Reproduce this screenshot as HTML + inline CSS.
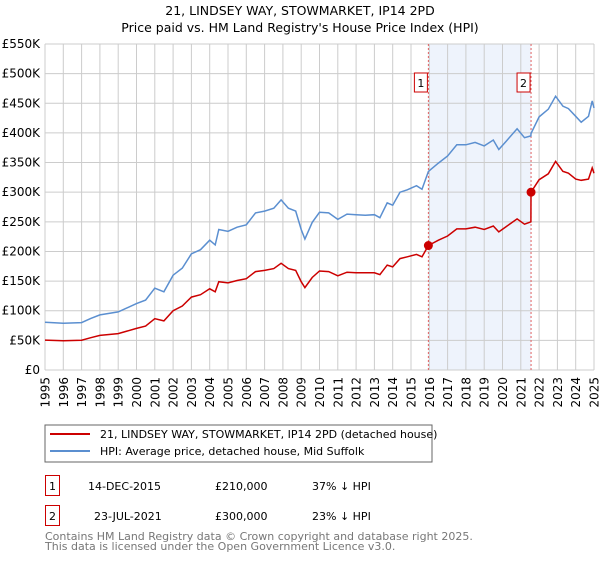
<!DOCTYPE html>
<html><head><meta charset="utf-8"><style>
body{margin:0;background:#fff;font-family:"Liberation Sans","DejaVu Sans",sans-serif;}
</style></head><body>
<svg id="c" width="600" height="560" xmlns="http://www.w3.org/2000/svg" font-family="DejaVu Sans, Liberation Sans, sans-serif">
<text x="300" y="15" text-anchor="middle" font-size="12.5">21, LINDSEY WAY, STOWMARKET, IP14 2PD</text>
<text x="300" y="32" text-anchor="middle" font-size="12.5">Price paid vs. HM Land Registry's House Price Index (HPI)</text>
<g id="grid"></g><g id="marks"></g>
<rect x="45" y="425" width="387" height="37" fill="#fff" stroke="#666"/>
<line x1="50" y1="434" x2="90" y2="434" stroke="#cc0000" stroke-width="2"/>
<text x="100" y="438" font-size="11">21, LINDSEY WAY, STOWMARKET, IP14 2PD (detached house)</text>
<line x1="50" y1="451" x2="90" y2="451" stroke="#5b8fd0" stroke-width="2"/>
<text x="100" y="455" font-size="11">HPI: Average price, detached house, Mid Suffolk</text>
<g font-size="11">
<rect x="45.5" y="475.5" width="14" height="20" fill="none" stroke="#cc0000"/>
<text x="52.5" y="490" text-anchor="middle">1</text>
<text x="88" y="490">14-DEC-2015</text>
<text x="215" y="490">£210,000</text>
<text x="312" y="490">37% ↓ HPI</text>
<rect x="45.5" y="505.5" width="14" height="20" fill="none" stroke="#cc0000"/>
<text x="52.5" y="520" text-anchor="middle">2</text>
<text x="94" y="520">23-JUL-2021</text>
<text x="215" y="520">£300,000</text>
<text x="312" y="520">23% ↓ HPI</text>
</g>
<text x="45" y="540" font-size="11" fill="#777">Contains HM Land Registry data © Crown copyright and database right 2025.</text>
<text x="45" y="550" font-size="11" fill="#777">This data is licensed under the Open Government Licence v3.0.</text>
</svg>
<script>
const years=[1995,1996,1997,1997.5,1998,1999,2000,2000.5,2001,2001.5,2002,2002.5,2003,2003.5,2004,2004.3,2004.5,2005,2005.5,2006,2006.5,2007,2007.5,2007.9,2008.3,2008.7,2009.0,2009.2,2009.6,2010,2010.5,2011,2011.5,2012,2012.5,2013,2013.3,2013.7,2014,2014.4,2014.8,2015.3,2015.6,2015.95,2016.5,2017,2017.5,2018,2018.5,2019,2019.5,2019.8,2020.2,2020.8,2021.2,2021.55,2021.56,2022,2022.5,2022.9,2023.3,2023.6,2024.0,2024.3,2024.7,2024.9,2025.0];
const hpiValues=[80.6,79,80,87,93,98,112,118,138,132,160,172,196,203,219,211,237,234,241,245,265,268,273,287,273,268,237,221,249,266,265,254,263,262,261,262,257,282,278,300,304,311,305,335,349,361,380,380,384,378,388,372,386,407,392,395,399,427,440,462,445,441,428,418,428,454,442];
const priceValues=[50.5,49.5,50.2,54.5,58.3,61.4,70.2,74,86.5,82.8,100,108,123,127,137,132,149,147,151,154,166,168,171,180,171,168,149,139,156,167,166,159,165,164,164,164,161,177,174,188,191,195,191,210,219,226,238,238,241,237,243,233,242,255,246,250,300,321,331,352,335,332,322,320,322,341,332];
const saleYears=[2015.95,2021.56];
const salePrices=[210,300];
const yTicks=[0,50,100,150,200,250,300,350,400,450,500,550];
const yTickLabels=["£0","£50K","£100K","£150K","£200K","£250K","£300K","£350K","£400K","£450K","£500K","£550K"];
const xTicks=[1995,1996,1997,1998,1999,2000,2001,2002,2003,2004,2005,2006,2007,2008,2009,2010,2011,2012,2013,2014,2015,2016,2017,2018,2019,2020,2021,2022,2023,2024,2025];
const NS="http://www.w3.org/2000/svg";
const X0=45,X1=594,Y0=370,Y1=44;
const xs=y=>X0+(y-1995)/30*(X1-X0);
const ys=v=>Y0-v/550*(Y0-Y1);
function mk(tag,attrs,parent){const e=document.createElementNS(NS,tag);for(const k in attrs)e.setAttribute(k,attrs[k]);parent.appendChild(e);return e;}
const grid=document.getElementById('grid'),marks=document.getElementById('marks');
let sh=mk('rect',{x:xs(saleYears[0]),y:Y1,width:xs(saleYears[1])-xs(saleYears[0]),height:Y0-Y1,fill:'#eef3fc'},grid);


yTicks.forEach((t,i)=>{
 let l=mk('line',{x1:X0,x2:X1,y1:ys(t),y2:ys(t),stroke:'#ccc'},grid);
 
 
 let tx=mk('text',{x:X0-5,y:ys(t)+4,'text-anchor':'end','font-size':'12'},grid);
 tx.textContent=yTickLabels[i];
 
 
});
xTicks.forEach(t=>{
 let l=mk('line',{x1:xs(t),x2:xs(t),y1:Y1,y2:Y0,stroke:'#ccc'},grid);
 
 
 let tx=mk('text',{x:0,y:0,'text-anchor':'end','font-size':'12',transform:'translate('+(xs(t)+4.5)+',377) rotate(-90)'},grid);
 tx.textContent=t;
 
 
});
saleYears.forEach((s,i)=>{
 let l=mk('line',{x1:xs(s),x2:xs(s),y1:Y1,y2:Y0,stroke:'#e06060','stroke-dasharray':'2,2'},grid);
 
 
 let b=mk('rect',{x:xs(s)-14,y:73,width:13,height:19,fill:'#fff',stroke:'#cc0000'},grid);
 
 
 let tx=mk('text',{x:xs(s)-7.5,y:87,'text-anchor':'middle','font-size':'11'},grid);
 tx.textContent=String(i+1);
 
 
});
function path(vals,col,name){
 let d=years.map((y,i)=>(i?'L':'M')+xs(y).toFixed(1)+','+ys(vals[i]).toFixed(1)).join('');
 let p=mk('path',{d:d,fill:'none',stroke:col,'stroke-width':1.5},marks);
 
 
}
path(hpiValues,'#5b8fd0','hpi-line');
path(priceValues,'#cc0000','price-line');
saleYears.forEach((s,i)=>{
 let c=mk('circle',{cx:xs(s),cy:ys(salePrices[i]),r:4.5,fill:'#cc0000'},marks);
 
 
});
</script>
</body></html>
